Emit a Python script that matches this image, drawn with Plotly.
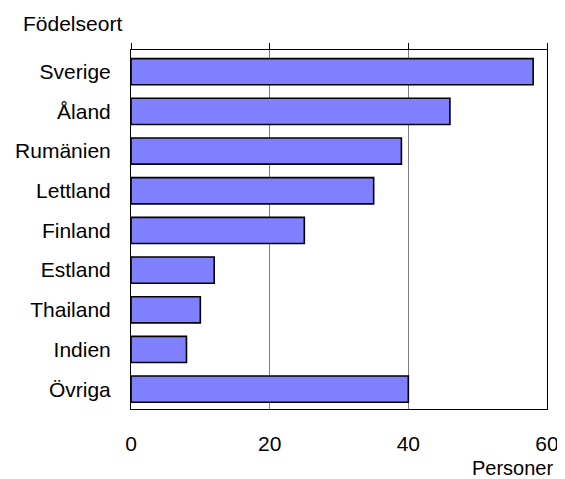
import plotly.graph_objects as go

categories = ["Sverige", "Åland", "Rumänien", "Lettland", "Finland", "Estland", "Thailand", "Indien", "Övriga"]
values = [58, 46, 39, 35, 25, 12, 10, 8, 40]
tick_vals = [0, 20, 40, 60]
tick_text = ["0", "20", "40", "60"]

FONT = "Liberation Sans, Arial, sans-serif"
FS = 21

fig = go.Figure()
fig.add_trace(go.Bar(
    x=values, y=categories, orientation="h",
    marker=dict(color="#8080FF", line=dict(color="black", width=1.6)),
    hoverinfo="x+y", showlegend=False,
))
# dummy trace to activate the top tick axis
fig.add_trace(go.Scatter(
    x=[0], y=[categories[0]], xaxis="x2", mode="markers",
    marker=dict(opacity=0), hoverinfo="skip", showlegend=False,
))

fig.update_layout(
    width=557, height=471,
    margin=dict(l=123, r=18, t=42, b=70),
    paper_bgcolor="white", plot_bgcolor="white",
    font=dict(family=FONT, size=FS, color="black"),
    bargap=0.34,
    xaxis=dict(
        range=[0, 60], tickvals=tick_vals, ticktext=tick_text,
        showgrid=True, gridcolor="#808080", gridwidth=1,
        showline=True, linecolor="black", linewidth=1, mirror=True,
        ticks="", zeroline=False, ticklabelstandoff=16,
        tickfont=dict(size=FS), automargin=False,
    ),
    xaxis2=dict(
        range=[0, 60], tickvals=tick_vals, overlaying="x", side="top",
        ticks="outside", ticklen=6, tickcolor="black", tickwidth=1,
        showticklabels=False, showgrid=False, zeroline=False, showline=False,
        automargin=False,
    ),
    yaxis=dict(
        categoryorder="array", categoryarray=categories[::-1],
        showline=True, linecolor="black", linewidth=1, mirror=True,
        ticks="", showgrid=False, ticklabelstandoff=15,
        tickfont=dict(size=FS), automargin=False,
    ),
    annotations=[
        dict(text="Födelseort", xref="paper", yref="paper", x=-0.264, y=1.075,
             xanchor="left", yanchor="middle", showarrow=False, font=dict(size=FS)),
        dict(text="Personer", xref="paper", yref="paper", x=1.02, y=-0.165,
             xanchor="right", yanchor="middle", showarrow=False, font=dict(size=20)),
    ],
)

fig.write_html("out.html")
